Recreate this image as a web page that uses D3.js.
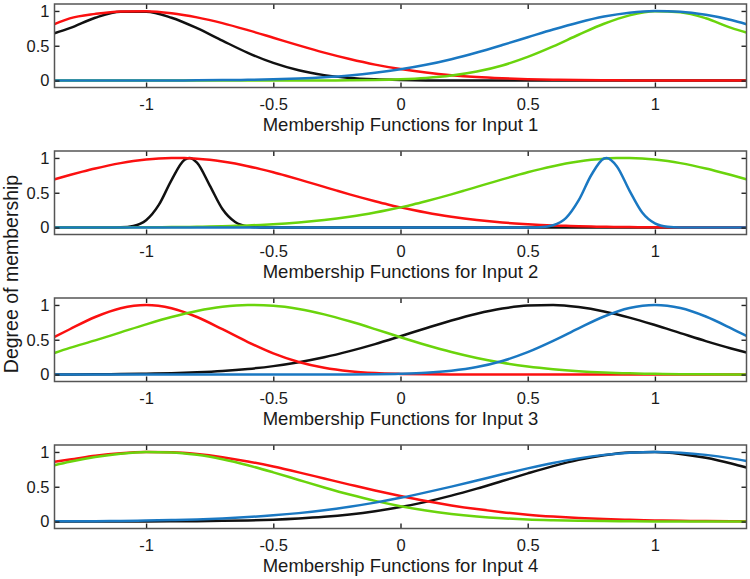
<!DOCTYPE html>
<html><head><meta charset="utf-8">
<script src="https://cdn.jsdelivr.net/npm/d3@7"></script>
<style>body{margin:0;background:#fff}svg{display:block}</style>
</head><body><svg id="c" width="750" height="579"></svg>
<script>
// ---- data ----
const xGrid = [-1.36,-1.3,-1.2,-1.1,-1.0,-0.9,-0.8,-0.7,-0.6,-0.5,-0.4,-0.3,-0.2,-0.1,0,0.1,0.2,0.3,0.4,0.5,0.6,0.7,0.8,0.9,1.0,1.1,1.2,1.3,1.36];
const xGridFine = [-1.36,-1.3,-1.25,-1.2,-1.15,-1.1,-1.05,-1.0,-0.95,-0.9,-0.85,-0.83,-0.8,-0.75,-0.7,-0.65,-0.6,-0.55,-0.5,-0.45,-0.4,-0.35,-0.3,-0.25,-0.2,-0.15,-0.1,-0.05,0,0.05,0.1,0.15,0.2,0.25,0.3,0.35,0.4,0.45,0.5,0.55,0.6,0.65,0.7,0.75,0.8,0.81,0.85,0.9,0.95,1.0,1.05,1.1,1.15,1.2,1.25,1.3,1.36];

const in1Black = [0.68,0.753,0.903,0.989,0.989,0.903,0.753,0.573,0.398,0.253,0.147,0.078,0.037,0.017,0.007,0.002,0.001,0,0,0,0,0,0,0,0,0,0,0,0];
const in1Red   = [0.81,0.893,0.958,0.994,0.997,0.968,0.908,0.825,0.724,0.615,0.505,0.401,0.309,0.229,0.165,0.115,0.077,0.050,0.032,0.019,0.011,0.006,0.004,0.002,0.001,0,0,0,0];
const in1Green = [0,0,0,0,0,0,0,0,0,0,0,0.001,0.003,0.007,0.017,0.036,0.071,0.129,0.217,0.340,0.491,0.658,0.816,0.937,0.997,0.981,0.895,0.756,0.69];
const in1Blue  = [0,0,0,0,0.001,0.002,0.003,0.006,0.010,0.017,0.029,0.047,0.073,0.111,0.161,0.226,0.307,0.403,0.510,0.622,0.734,0.835,0.919,0.975,0.999,0.989,0.945,0.871,0.81];

const in2Black = [0,0,0,0,0,0.003,0.023,0.105,0.325,0.682,
  0.969,1,0.932,0.607,0.267,0.080,0.016,0.002,0,0,
  0,0,0,0,0,0,0,0,0,0,
  0,0,0,0,0,0,0,0,0,0,
  0,0,0,0,0,0,0,0,0,0,
  0,0,0,0,0,0,0];
const in2Red = [0.692,0.754,0.803,0.849,0.890,0.926,0.955,0.977,0.992,0.999,
  0.999,0.996,0.990,0.973,0.949,0.919,0.882,0.840,0.794,0.744,
  0.692,0.638,0.584,0.530,0.477,0.426,0.378,0.332,0.290,0.251,
  0.215,0.183,0.155,0.130,0.108,0.089,0.073,0.059,0.048,0.038,
  0.030,0.024,0.018,0.014,0.011,0.010,0.008,0.006,0.005,0.004,
  0.003,0.002,0.001,0.001,0.001,0,0];
const in2Green = [0,0,0.001,0.001,0.001,0.002,0.003,0.004,0.005,0.006,
  0.008,0.009,0.011,0.014,0.018,0.024,0.030,0.038,0.048,0.059,
  0.073,0.089,0.108,0.130,0.155,0.183,0.215,0.251,0.290,0.332,
  0.378,0.426,0.477,0.530,0.584,0.638,0.692,0.744,0.794,0.840,
  0.882,0.919,0.949,0.973,0.990,0.992,0.999,0.999,0.992,0.977,
  0.955,0.926,0.890,0.849,0.803,0.754,0.692];
const in2Blue = [0,0,0,0,0,0,0,0,0,0,
  0,0,0,0,0,0,0,0,0,0,
  0,0,0,0,0,0,0,0,0,0,
  0,0,0,0,0,0,0,0,0,0.005,
  0.032,0.135,0.389,0.755,0.992,1,0.882,0.531,0.216,0.060,
  0.011,0.001,0,0,0,0,0];

const in3Black = [0.001,0.002,0.003,0.006,0.011,0.019,0.032,0.051,0.080,0.121,0.177,0.248,0.336,0.437,0.550,0.666,0.777,0.874,0.948,0.991,0.998,0.969,0.907,0.818,0.711,0.596,0.481,0.375,0.317];
const in3Red   = [0.540,0.651,0.827,0.953,1,0.953,0.827,0.651,0.467,0.304,0.180,0.097,0.047,0.021,0.009,0.003,0.001,0,0,0,0,0,0,0,0,0,0,0,0];
const in3Green = [0.31,0.383,0.491,0.606,0.721,0.827,0.914,0.974,0.999,0.988,0.942,0.865,0.765,0.653,0.536,0.425,0.324,0.238,0.169,0.115,0.076,0.048,0.029,0.017,0.010,0.005,0.003,0.001,0.001];
const in3Blue  = [0,0,0,0,0,0,0,0,0,0,0,0,0.001,0.004,0.011,0.025,0.055,0.108,0.195,0.321,0.483,0.664,0.834,0.956,1,0.956,0.834,0.664,0.555];

const in4Black = [0,0,0,0.001,0.002,0.003,0.005,0.010,0.016,0.027,0.044,0.068,0.102,0.148,0.208,0.283,0.372,0.473,0.582,0.692,0.796,0.886,0.953,0.992,0.998,0.972,0.916,0.834,0.776];
const in4Red   = [0.86,0.890,0.945,0.982,0.999,0.995,0.970,0.925,0.864,0.790,0.707,0.619,0.531,0.445,0.366,0.294,0.232,0.179,0.135,0.099,0.072,0.051,0.035,0.024,0.016,0.010,0.007,0.004,0.003];
const in4Green = [0.81,0.859,0.927,0.974,0.998,0.994,0.959,0.895,0.809,0.707,0.598,0.490,0.388,0.297,0.221,0.158,0.110,0.074,0.048,0.030,0.019,0.011,0.006,0.003,0.002,0.001,0,0,0];
const in4Blue  = [0.003,0.003,0.005,0.009,0.014,0.021,0.031,0.045,0.064,0.089,0.121,0.162,0.213,0.272,0.341,0.419,0.502,0.590,0.679,0.764,0.842,0.908,0.958,0.989,1,0.989,0.958,0.908,0.870];

const xTicks = [-1,-0.5,0,0.5,1];
const xTickLabels = ["-1","-0.5","0","0.5","1"];
const yTicks = [0,0.5,1];
const yTickLabels = ["0","0.5","1"];
const panelTitles = ["Membership Functions for Input 1","Membership Functions for Input 2","Membership Functions for Input 3","Membership Functions for Input 4"];
const yTitle = "Degree of membership";
const colorOf = {black:"#111111", red:"#fb1010", green:"#6ad40c", blue:"#1a78c2"};

const panels = [
  {x:xGrid,     s:[["black",in1Black],["red",in1Red],["green",in1Green],["blue",in1Blue]]},
  {x:xGridFine, s:[["black",in2Black],["red",in2Red],["green",in2Green],["blue",in2Blue]]},
  {x:xGrid,     s:[["black",in3Black],["red",in3Red],["green",in3Green],["blue",in3Blue]]},
  {x:xGrid,     s:[["black",in4Black],["red",in4Red],["green",in4Green],["blue",in4Blue]]}
];

// ---- layout ----
const svg = d3.select("#c");
const L = 54.5, R = 746.5, H = 83.5;
const tops = [4, 151, 298, 445];
const FONT = "'Liberation Sans', Arial, Helvetica, sans-serif";
const x = d3.scaleLinear().domain([-1.36, 1.36]).range([L, R]);

panels.forEach((p, pi) => {
  const top = tops[pi], bot = top + H;
  const y = d3.scaleLinear().domain([-0.1, 1.1]).range([bot, top]);
  const g = svg.append("g");
  const cid = "clip" + pi;
  g.append("clipPath").attr("id", cid).append("rect")
    .attr("x", L).attr("y", top).attr("width", R - L).attr("height", H);

  const line = d3.line().x(d => x(d[0])).y(d => y(d[1])).curve(d3.curveMonotoneX);
  const lg = g.append("g").attr("clip-path", `url(#${cid})`);
  p.s.forEach(([name, vals]) => {
    lg.append("path")
      .datum(p.x.map((xv, i) => [xv, vals[i]]))
      .attr("d", line)
      .attr("fill", "none")
      .attr("stroke", colorOf[name])
      .attr("stroke-width", 2.5)
      .attr("stroke-linejoin", "round");
  });

  const styleAxis = sel => {
    sel.select(".domain").remove();
    sel.selectAll(".tick line").attr("stroke", "#222").attr("stroke-width", 1.4);
    sel.selectAll(".tick text").attr("fill", "#1a1a1a").attr("font-size", 16.5).attr("font-family", FONT);
    sel.attr("font-size", null).attr("font-family", null);
  };

  g.append("g").attr("transform", `translate(0,${bot})`)
    .call(d3.axisBottom(x).tickValues(xTicks).tickFormat((d, i) => xTickLabels[i]).tickSizeInner(-5).tickSizeOuter(0).tickPadding(11))
    .call(styleAxis);
  g.append("g").attr("transform", `translate(0,${top})`)
    .call(d3.axisTop(x).tickValues(xTicks).tickFormat("").tickSizeInner(-5).tickSizeOuter(0))
    .call(styleAxis);
  g.append("g").attr("transform", `translate(${L},0)`)
    .call(d3.axisLeft(y).tickValues(yTicks).tickFormat((d, i) => yTickLabels[i]).tickSizeInner(-5).tickSizeOuter(0).tickPadding(5))
    .call(styleAxis);
  g.append("g").attr("transform", `translate(${R},0)`)
    .call(d3.axisRight(y).tickValues(yTicks).tickFormat("").tickSizeInner(-5).tickSizeOuter(0))
    .call(styleAxis);

  g.append("rect").attr("x", L).attr("y", top).attr("width", R - L).attr("height", H)
    .attr("fill", "none").attr("stroke", "#555").attr("stroke-width", 1.5);

  g.append("text").attr("x", (L + R) / 2).attr("y", bot + 43.7)
    .attr("text-anchor", "middle").attr("font-family", FONT).attr("font-size", 18.5)
    .attr("fill", "#1a1a1a").text(panelTitles[pi]);
});

svg.append("text")
  .attr("transform", "translate(18,274) rotate(-90)")
  .attr("text-anchor", "middle").attr("font-family", FONT).attr("font-size", 19.5)
  .attr("fill", "#1a1a1a").text(yTitle);
</script></body></html>
